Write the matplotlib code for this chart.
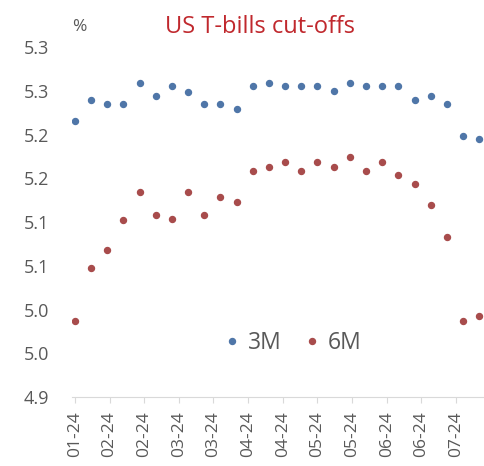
import matplotlib
matplotlib.use("Agg")
import matplotlib.pyplot as plt
import matplotlib.dates as mdates
import pandas as pd

# weekly auctions, 2024
dates = pd.date_range("2024-01-18", periods=26, freq="7D")

bill_3m = [5.215, 5.239, 5.235, 5.235, 5.259, 5.244, 5.255, 5.249, 5.235, 5.235,
           5.229, 5.255, 5.259, 5.255, 5.255, 5.255, 5.250, 5.259, 5.255, 5.255,
           5.255, 5.239, 5.244, 5.235, 5.198, 5.195]
bill_6m = [4.987, 5.048, 5.068, 5.102, 5.134, 5.108, 5.103, 5.134, 5.108, 5.129,
           5.123, 5.158, 5.163, 5.169, 5.158, 5.169, 5.163, 5.174, 5.158, 5.169,
           5.154, 5.143, 5.119, 5.083, 4.987, 4.993]

tick_dates = pd.date_range("2024-01-18", periods=12, freq="15D")
y_ticks = [4.90, 4.95, 5.00, 5.05, 5.10, 5.15, 5.20, 5.25, 5.30]
y_labels = ["4.9", "5.0", "5.0", "5.1", "5.1", "5.2", "5.2", "5.3", "5.3"]

plt.rcParams["font.family"] = ["Open Sans", "DejaVu Sans"]
grey = "#595959"

fig = plt.figure(figsize=(4.85, 4.66), dpi=100)
ax = fig.add_axes([0.148, 0.148, 0.852, 0.751])

ax.plot(dates, bill_3m, "o", color="#4f76a8", markersize=4.3, label="3M")
ax.plot(dates, bill_6m, "o", color="#a84c4c", markersize=4.3, label="6M")

ax.set_ylim(4.9, 5.3)
ax.set_yticks(y_ticks)
ax.set_yticklabels(y_labels)
ax.set_xlim(pd.Timestamp("2024-01-16 16:00"), pd.Timestamp("2024-07-13 12:00"))
ax.set_xticks(tick_dates)
ax.xaxis.set_major_formatter(mdates.DateFormatter("%m-%y"))

for s in ["top", "right", "left"]:
    ax.spines[s].set_visible(False)
ax.spines["bottom"].set_color("#d9d9d9")
ax.tick_params(axis="y", length=0, labelsize=13, labelcolor=grey, pad=16)
ax.tick_params(axis="x", length=4, color="#d9d9d9", labelsize=12.5,
               labelcolor=grey, rotation=90, pad=6)

fig.text(0.148, 0.942, "%", fontsize=12.5, color=grey, va="center")
fig.text(0.536, 0.942, "US T-bills cut-offs", fontsize=17, color="#c0282d",
         ha="center", va="center")

ax.legend(loc="center", bbox_to_anchor=(0.533, 0.155), ncol=2, frameon=False,
          fontsize=16.5, labelcolor=grey, handlelength=0.8, handletextpad=0.3,
          columnspacing=0.9)

fig.savefig("out.png", dpi=100)
